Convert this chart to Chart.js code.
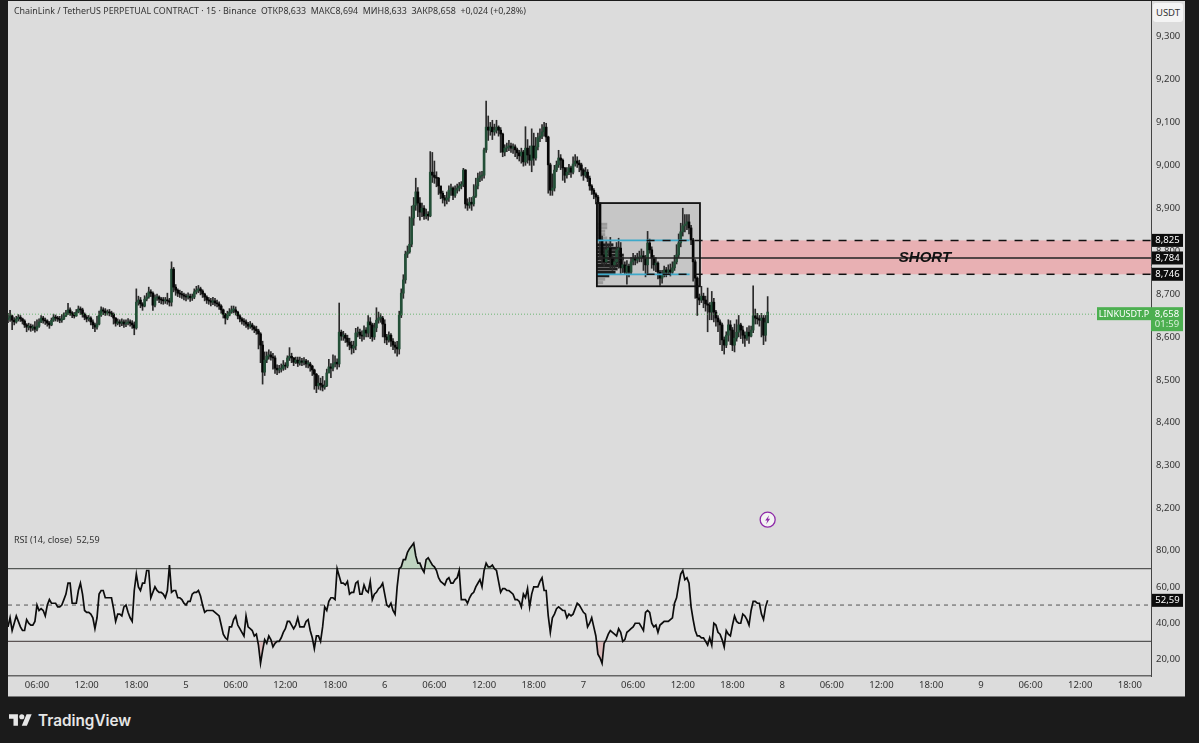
<!DOCTYPE html>
<html>
<head>
<meta charset="utf-8">
<title>LINKUSDT.P 15m</title>
<script src="https://cdn.jsdelivr.net/npm/chart.js@4/dist/chart.umd.min.js"></script>
<style>
  html, body { margin: 0; padding: 0; background: #1b1b1b; }
  body { width: 1199px; height: 743px; position: relative; overflow: hidden; font-family: "Noto Sans", sans-serif; }
  #panel { position: absolute; left: 8px; top: 1px; width: 1177px; height: 695px; background: #dcdcdc; border-bottom: 1px solid #777; }
  #priceCanvas { position: absolute; left: 8px; top: 1px; }
  #rsiCanvas { position: absolute; left: 8px; top: 531px; }
  #header { position: absolute; left: 14px; top: 4px; font-size: 8.9px; color: #333; white-space: pre; }
  #rsiTitle { position: absolute; left: 14px; top: 533px; font-size: 9px; color: #333; white-space: pre; }
  #currency { position: absolute; left: 1153px; top: 3px; width: 30px; height: 19px; line-height: 19px; background: #f4f4f4; border-radius: 3px; text-align: center; font-size: 9.5px; color: #333; }
  #brand { position: absolute; left: 9px; top: 708px; height: 24px; display: flex; align-items: center; color: #e6e6e6; font-family: Inter, sans-serif; font-weight: 600; font-size: 15.3px; }
  #brand svg { margin-right: 6px; }
</style>
</head>
<body>
<div id="panel"></div>
<canvas id="priceCanvas" width="1177" height="530"></canvas>
<canvas id="rsiCanvas" width="1177" height="166"></canvas>
<div id="header">ChainLink / TetherUS PERPETUAL CONTRACT · 15 · Binance  ОТКР8,633  МАКС8,694  МИН8,633  ЗАКР8,658  +0,024 (+0,28%)</div>
<div id="rsiTitle">RSI (14, close)  52,59</div>
<div id="currency">USDT</div>
<div id="brand">
  <svg width="23" height="12" viewBox="0 4 36 18"><path fill="#e6e6e6" d="M14 22H7V11H0V4h14v18ZM28 22h-8l7.5-18h8L28 22Z"/><circle fill="#e6e6e6" cx="20" cy="8" r="4"/></svg>TradingView
</div>

<script>
// ---- candles (15 min) ----
const opens = [
  8.640,8.644,8.649,8.639,8.635,8.642,8.646,8.642,8.637,8.628,
  8.623,8.625,8.621,8.623,8.618,8.625,8.635,8.644,8.639,8.637,
  8.632,8.628,8.639,8.646,8.644,8.642,8.639,8.642,8.649,8.656,
  8.663,8.656,8.651,8.649,8.658,8.665,8.663,8.653,8.646,8.642,
  8.644,8.635,8.628,8.623,8.630,8.651,8.663,8.660,8.656,8.658,
  8.656,8.653,8.644,8.632,8.635,8.632,8.635,8.630,8.632,8.635,
  8.632,8.628,8.621,8.681,8.686,8.677,8.672,8.688,8.693,8.705,
  8.702,8.674,8.691,8.693,8.688,8.686,8.684,8.686,8.684,8.681,
  8.758,8.716,8.709,8.702,8.700,8.698,8.695,8.693,8.695,8.691,
  8.693,8.705,8.709,8.712,8.707,8.700,8.693,8.686,8.684,8.681,
  8.684,8.679,8.677,8.672,8.663,8.653,8.644,8.651,8.658,8.663,
  8.663,8.658,8.649,8.642,8.637,8.635,8.630,8.625,8.628,8.623,
  8.618,8.614,8.607,8.581,8.518,8.546,8.555,8.558,8.553,8.551,
  8.527,8.523,8.525,8.527,8.534,8.532,8.551,8.555,8.551,8.541,
  8.546,8.539,8.544,8.541,8.544,8.537,8.537,8.532,8.523,8.513,
  8.486,8.492,8.488,8.483,8.486,8.516,8.530,8.527,8.537,8.541,
  8.537,8.611,8.602,8.604,8.597,8.588,8.581,8.574,8.579,8.609,
  8.611,8.604,8.602,8.616,8.609,8.635,8.628,8.600,8.621,8.639,
  8.644,8.644,8.630,8.600,8.593,8.604,8.590,8.581,8.576,8.572,
  8.651,8.702,8.733,8.793,8.798,8.816,8.877,8.907,8.938,8.912,
  8.891,8.900,8.882,8.886,8.882,8.984,8.977,8.972,8.970,8.952,
  8.935,8.924,8.919,8.924,8.942,8.947,8.930,8.942,8.947,8.952,
  8.956,8.989,8.910,8.907,8.914,8.910,8.928,8.952,8.970,8.975,
  8.977,9.036,9.089,9.082,9.089,9.078,9.082,9.089,9.082,9.073,
  9.031,9.040,9.043,9.045,9.040,9.043,9.036,9.029,9.022,9.031,
  9.008,9.040,9.024,9.012,9.045,9.017,9.043,9.064,9.068,9.078,
  9.089,9.066,9.001,8.942,8.947,8.989,9.001,9.017,9.012,8.994,
  8.977,8.984,8.994,8.984,9.003,9.010,9.005,9.001,8.989,8.977,
  8.984,8.970,8.952,8.942,8.933,8.926,8.912,8.826,8.791,8.775,
  8.803,8.807,8.784,8.768,8.775,8.803,8.807,8.761,8.768,8.751,
  8.765,8.751,8.775,8.784,8.779,8.784,8.786,8.789,8.784,8.768,
  8.819,8.803,8.784,8.768,8.772,8.751,8.737,8.744,8.756,8.751,
  8.756,8.751,8.761,8.775,8.791,8.819,8.845,8.859,8.863,8.868,
  8.854,8.826,8.775,8.737,8.691,8.686,8.695,8.686,8.677,8.674,
  8.658,8.681,8.658,8.644,8.635,8.628,8.593,8.581,8.604,8.628,
  8.616,8.581,8.597,8.611,8.628,8.616,8.604,8.597,8.611,8.602,
  8.616,8.649,8.644,8.642,8.639,8.644,8.604,8.633
];
const highs = [
  8.655,8.662,8.651,8.645,8.648,8.652,8.650,8.644,8.640,8.631,
  8.632,8.630,8.628,8.636,8.640,8.642,8.650,8.648,8.644,8.640,
  8.636,8.644,8.653,8.651,8.648,8.648,8.652,8.656,8.662,8.678,
  8.668,8.659,8.657,8.664,8.672,8.670,8.667,8.656,8.650,8.650,
  8.647,8.640,8.632,8.648,8.660,8.670,8.668,8.666,8.663,8.664,
  8.660,8.656,8.645,8.642,8.640,8.642,8.640,8.640,8.643,8.640,
  8.638,8.635,8.712,8.695,8.692,8.680,8.696,8.702,8.716,8.710,
  8.705,8.698,8.700,8.696,8.692,8.692,8.692,8.702,8.690,8.775,
  8.762,8.722,8.712,8.709,8.706,8.702,8.700,8.703,8.700,8.700,
  8.712,8.718,8.720,8.716,8.710,8.702,8.696,8.692,8.690,8.692,
  8.690,8.686,8.682,8.675,8.665,8.655,8.660,8.666,8.672,8.672,
  8.670,8.660,8.652,8.645,8.643,8.640,8.634,8.636,8.632,8.626,
  8.625,8.618,8.610,8.590,8.565,8.565,8.570,8.566,8.562,8.556,
  8.535,8.534,8.537,8.545,8.540,8.556,8.575,8.562,8.552,8.553,
  8.553,8.553,8.550,8.552,8.548,8.545,8.541,8.534,8.525,8.515,
  8.510,8.504,8.508,8.498,8.525,8.548,8.538,8.558,8.556,8.549,
  8.679,8.616,8.613,8.608,8.604,8.597,8.590,8.590,8.620,8.623,
  8.618,8.614,8.626,8.622,8.650,8.645,8.632,8.632,8.668,8.658,
  8.654,8.648,8.640,8.606,8.612,8.608,8.596,8.588,8.590,8.660,
  8.712,8.745,8.800,8.812,8.880,8.905,8.925,8.970,8.948,8.925,
  8.912,8.906,8.898,8.892,9.032,9.030,9.010,8.985,8.972,8.950,
  8.940,8.930,8.938,8.952,8.956,8.950,8.952,8.956,8.960,8.962,
  8.993,8.990,8.922,8.925,8.925,8.955,8.970,8.982,8.985,8.986,
  9.040,9.150,9.115,9.100,9.105,9.096,9.105,9.092,9.088,9.075,
  9.048,9.052,9.058,9.052,9.050,9.048,9.040,9.035,9.040,9.035,
  9.090,9.060,9.045,9.085,9.075,9.065,9.075,9.085,9.095,9.100,
  9.098,9.068,9.005,8.980,9.000,9.010,9.035,9.025,9.015,8.995,
  8.995,9.002,8.998,9.020,9.025,9.020,9.012,9.005,8.992,8.995,
  8.990,8.975,8.955,8.946,8.936,8.930,8.912,8.835,8.810,8.822,
  8.815,8.832,8.790,8.785,8.820,8.830,8.820,8.785,8.775,8.778,
  8.770,8.785,8.795,8.790,8.795,8.800,8.805,8.800,8.790,8.846,
  8.828,8.810,8.790,8.785,8.775,8.755,8.755,8.765,8.762,8.768,
  8.770,8.775,8.790,8.815,8.840,8.865,8.900,8.885,8.885,8.885,
  8.860,8.830,8.780,8.740,8.700,8.718,8.702,8.695,8.714,8.680,
  8.706,8.690,8.662,8.650,8.640,8.632,8.600,8.612,8.640,8.638,
  8.622,8.630,8.640,8.650,8.632,8.625,8.612,8.622,8.626,8.625,
  8.719,8.665,8.655,8.650,8.655,8.650,8.650,8.694
];
const lows = [
  8.633,8.636,8.617,8.628,8.632,8.637,8.636,8.630,8.622,8.612,
  8.616,8.613,8.615,8.611,8.614,8.622,8.633,8.632,8.629,8.625,
  8.620,8.626,8.636,8.637,8.636,8.633,8.634,8.640,8.647,8.652,
  8.650,8.645,8.644,8.648,8.656,8.652,8.646,8.640,8.635,8.637,
  8.628,8.619,8.612,8.618,8.628,8.648,8.652,8.650,8.651,8.649,
  8.647,8.630,8.625,8.628,8.624,8.626,8.622,8.624,8.628,8.625,
  8.620,8.605,8.618,8.674,8.668,8.662,8.670,8.684,8.690,8.694,
  8.662,8.670,8.685,8.680,8.677,8.676,8.678,8.676,8.672,8.672,
  8.705,8.697,8.694,8.692,8.690,8.686,8.684,8.688,8.683,8.685,
  8.689,8.700,8.703,8.698,8.692,8.684,8.678,8.676,8.672,8.675,
  8.672,8.670,8.664,8.655,8.644,8.630,8.640,8.649,8.655,8.656,
  8.651,8.642,8.635,8.630,8.627,8.622,8.618,8.620,8.616,8.610,
  8.606,8.572,8.540,8.490,8.510,8.540,8.548,8.546,8.525,8.515,
  8.512,8.516,8.518,8.522,8.524,8.528,8.545,8.540,8.533,8.538,
  8.531,8.534,8.533,8.535,8.529,8.528,8.520,8.510,8.478,8.470,
  8.478,8.476,8.474,8.478,8.484,8.516,8.505,8.521,8.530,8.525,
  8.530,8.592,8.592,8.587,8.578,8.570,8.560,8.563,8.570,8.600,
  8.596,8.590,8.594,8.600,8.600,8.596,8.590,8.594,8.612,8.632,
  8.634,8.600,8.586,8.582,8.588,8.578,8.570,8.562,8.555,8.560,
  8.645,8.690,8.725,8.785,8.795,8.810,8.860,8.895,8.880,8.872,
  8.880,8.874,8.875,8.872,8.880,8.960,8.958,8.950,8.932,8.922,
  8.912,8.905,8.910,8.916,8.930,8.920,8.925,8.935,8.940,8.945,
  8.950,8.900,8.895,8.900,8.895,8.905,8.925,8.945,8.962,8.965,
  8.970,9.030,9.058,9.070,9.060,9.070,9.075,9.068,9.030,9.020,
  9.022,9.032,9.034,9.030,9.028,9.020,9.015,9.010,9.005,8.998,
  9.000,9.005,9.000,8.985,9.000,9.012,9.036,9.055,9.062,9.068,
  9.055,8.935,8.930,8.930,8.940,8.985,8.995,8.990,8.965,8.960,
  8.970,8.978,8.972,8.980,8.998,8.995,8.985,8.975,8.965,8.972,
  8.962,8.942,8.932,8.922,8.910,8.826,8.780,8.770,8.765,8.770,
  8.790,8.760,8.755,8.760,8.768,8.760,8.748,8.750,8.745,8.723,
  8.740,8.745,8.768,8.768,8.772,8.775,8.775,8.755,8.740,8.745,
  8.795,8.760,8.755,8.752,8.735,8.720,8.725,8.740,8.740,8.745,
  8.742,8.748,8.755,8.770,8.785,8.810,8.835,8.845,8.850,8.840,
  8.815,8.730,8.690,8.650,8.675,8.680,8.668,8.660,8.612,8.640,
  8.640,8.635,8.625,8.612,8.582,8.568,8.560,8.575,8.590,8.582,
  8.568,8.565,8.590,8.600,8.596,8.585,8.578,8.592,8.585,8.600,
  8.610,8.630,8.630,8.625,8.600,8.582,8.590,8.633
];
const closes = [
  8.644,8.649,8.639,8.635,8.642,8.646,8.642,8.637,8.628,8.623,
  8.625,8.621,8.623,8.618,8.625,8.635,8.644,8.639,8.637,8.632,
  8.628,8.639,8.646,8.644,8.642,8.639,8.642,8.649,8.656,8.663,
  8.656,8.651,8.649,8.658,8.665,8.663,8.653,8.646,8.642,8.644,
  8.635,8.628,8.623,8.630,8.651,8.663,8.660,8.656,8.658,8.656,
  8.653,8.644,8.632,8.635,8.632,8.635,8.630,8.632,8.635,8.632,
  8.628,8.621,8.681,8.686,8.677,8.672,8.688,8.693,8.705,8.702,
  8.674,8.691,8.693,8.688,8.686,8.684,8.686,8.684,8.681,8.758,
  8.716,8.709,8.702,8.700,8.698,8.695,8.693,8.695,8.691,8.693,
  8.705,8.709,8.712,8.707,8.700,8.693,8.686,8.684,8.681,8.684,
  8.679,8.677,8.672,8.663,8.653,8.644,8.651,8.658,8.663,8.663,
  8.658,8.649,8.642,8.637,8.635,8.630,8.625,8.628,8.623,8.618,
  8.614,8.607,8.581,8.518,8.546,8.555,8.558,8.553,8.551,8.527,
  8.523,8.525,8.527,8.534,8.532,8.551,8.555,8.551,8.541,8.546,
  8.539,8.544,8.541,8.544,8.537,8.537,8.532,8.523,8.513,8.486,
  8.492,8.488,8.483,8.486,8.516,8.530,8.527,8.537,8.541,8.537,
  8.611,8.602,8.604,8.597,8.588,8.581,8.574,8.579,8.609,8.611,
  8.604,8.602,8.616,8.609,8.635,8.628,8.600,8.621,8.639,8.644,
  8.644,8.630,8.600,8.593,8.604,8.590,8.581,8.576,8.572,8.651,
  8.702,8.733,8.793,8.798,8.816,8.877,8.907,8.938,8.912,8.891,
  8.900,8.882,8.886,8.882,8.984,8.977,8.972,8.970,8.952,8.935,
  8.924,8.919,8.924,8.942,8.947,8.930,8.942,8.947,8.952,8.956,
  8.989,8.910,8.907,8.914,8.910,8.928,8.952,8.970,8.975,8.977,
  9.036,9.089,9.082,9.089,9.078,9.082,9.089,9.082,9.073,9.031,
  9.040,9.043,9.045,9.040,9.043,9.036,9.029,9.022,9.031,9.008,
  9.040,9.024,9.012,9.045,9.017,9.043,9.064,9.068,9.078,9.089,
  9.066,9.001,8.942,8.947,8.989,9.001,9.017,9.012,8.994,8.977,
  8.984,8.994,8.984,9.003,9.010,9.005,9.001,8.989,8.977,8.984,
  8.970,8.952,8.942,8.933,8.926,8.912,8.826,8.791,8.775,8.803,
  8.807,8.784,8.768,8.775,8.803,8.807,8.761,8.768,8.751,8.765,
  8.751,8.775,8.784,8.779,8.784,8.786,8.789,8.784,8.768,8.819,
  8.803,8.784,8.768,8.772,8.751,8.737,8.744,8.756,8.751,8.756,
  8.751,8.761,8.775,8.791,8.819,8.845,8.859,8.863,8.868,8.854,
  8.826,8.775,8.737,8.691,8.686,8.695,8.686,8.677,8.674,8.658,
  8.681,8.658,8.644,8.635,8.628,8.593,8.581,8.604,8.628,8.616,
  8.581,8.597,8.611,8.628,8.616,8.604,8.597,8.611,8.602,8.616,
  8.649,8.644,8.642,8.639,8.644,8.604,8.633,8.658
];

// ---- RSI (14), one value per candle ----
const rsiValues = [
  38,43,36,40,44,41,38,36,36,42,
  40,39,39,41,50,47,48,47,44,50,
  53,51,51,51,49,49,50,53,56,62,
  62,51,51,51,58,62,56,47,46,46,
  45,43,37,43,56,58,58,54,54,54,
  54,48,41,45,45,44,49,50,46,43,
  41,58,67,60,58,62,62,69,69,54,
  57,60,58,57,57,56,54,58,72,57,
  58,58,54,54,53,51,50,52,52,56,
  57,57,58,55,50,46,47,47,47,47,
  46,45,44,39,34,32,31,38,38,42,
  44,39,37,35,33,44,38,37,36,33,
  34,28,18,25,31,29,33,31,27,29,
  30,30,32,35,37,41,41,39,37,39,
  43,38,38,38,41,42,36,32,26,33,
  33,30,38,49,47,52,54,54,53,70,
  66,62,62,61,63,56,57,57,62,63,
  56,56,61,58,57,63,53,56,57,59,
  60,62,56,50,49,51,47,45,60,70,
  71,75,75,79,81,82.5,84,77,73,73,
  70,68,75,76,74,72,71,69,65,63,
  62,61,64,65,62,62,64,65,69,53,
  53,53,51,54,56,57,60,62,64,60,
  69,73,71,71,72,70,69,63,57,59,
  59,58,58,57,56,53,53,52,49,56,
  54,59,49,56,60,60,60,63,65,58,
  58,44,35,43,45,48,49,48,47,47,
  43,45,44,45,48,51,50,48,46,45,
  38,40,43,38,33,23,21,18,29,31,
  34,36,35,34,33,37,35,30,31,35,
  36,37,38,40,40,40,38,36,46,47,
  46,40,38,39,35,39,40,41,41,41,
  42,43,51,54,61,67,69,64,65,62,
  49,42,36,33,33,32,32,30,28,32,
  28,40,39,35,34,31,27,36,34,33,
  39,44,41,40,40,45,44,42,39,47,
  52,52,51,51,45,42,49,52.59
];

// ---- axes ----
const priceTicks = [8.2,8.3,8.4,8.5,8.6,8.7,8.8,8.9,9.0,9.1,9.2,9.3];
const rsiTicks = [20,40,60,80];
const timeTickPositions = [14,38,62,86,110,134,158,182,206,230,254,278,302,326,350,374,398,422,446,470,494,518,542];
const timeTickLabels = ["06:00","12:00","18:00","5","06:00","12:00","18:00","6","06:00","12:00","18:00","7","06:00","12:00","18:00","8","06:00","12:00","18:00","9","06:00","12:00","18:00"];

// ---- drawings on the price pane ----
const zoneLevels = [8.825, 8.784, 8.746];
const zoneStart = 335;
const boxLevels = [8.912, 8.718];
const boxRange = [284.5, 334.3];
const lastPrice = 8.658;
const lastPriceLine = 8.653;
const rsiBand = [70, 50, 30];
const rsiLast = 52.59;

// volume profile rows in the box (price, length in candles)
const profilePrices = [8.866,8.858,8.850,8.842,8.834,8.826,8.818,8.810,8.802,8.794,8.786,8.778,8.770,8.762,8.754,8.746,8.738,8.730];
const profileLengths = [5,5,4,4,5,7,8,11,12,13,13,12,11,10,9,6,4,3];

const eventPoint = [367, 8.174];

const fmtPrice = v => v.toFixed(3).replace(".", ",");
const fmtRsi = v => v.toFixed(2).replace(".", ",");

const AXIS_W = 34;
const FONT = '9.5px "Noto Sans", sans-serif';
const TEXT = "#333";

// chart.js adds half a label plus tick padding above and below the axis, the panes here run edge to edge
function fitPriceAxis(s) {
  s.width = AXIS_W;
  s.paddingTop = 0;
  s.paddingBottom = 0;
}

function tag(ctx, x, y, w, h, bg, fg, text) {
  ctx.fillStyle = bg;
  ctx.fillRect(x, y - h / 2, w, h);
  ctx.fillStyle = fg;
  ctx.font = FONT;
  ctx.textAlign = "center";
  ctx.textBaseline = "middle";
  ctx.fillText(text, x + w / 2, y);
}

// zone and box go under the candles
const underlay = {
  id: "underlay",
  beforeDatasetsDraw(chart) {
    const { ctx, chartArea, scales: { x, y } } = chart;
    ctx.save();
    ctx.fillStyle = "#e8b0b3";
    ctx.fillRect(x.getPixelForValue(zoneStart), y.getPixelForValue(zoneLevels[0]),
      chartArea.right - x.getPixelForValue(zoneStart), y.getPixelForValue(zoneLevels[2]) - y.getPixelForValue(zoneLevels[0]));

    const bx = x.getPixelForValue(boxRange[0]);
    const bw = x.getPixelForValue(boxRange[1]) - bx;
    const by = y.getPixelForValue(boxLevels[0]);
    const bh = y.getPixelForValue(boxLevels[1]) - by;
    ctx.fillStyle = "rgba(110,110,110,0.2)";
    ctx.fillRect(bx, by, bw, bh);

    // profile rows
    profilePrices.forEach((p, i) => {
      const inValue = p <= zoneLevels[0] && p >= zoneLevels[2];
      ctx.fillStyle = inValue ? "rgba(15,15,15,0.92)" : "rgba(120,120,120,0.55)";
      ctx.fillRect(bx, y.getPixelForValue(p), x.getPixelForValue(boxRange[0] + profileLengths[i]) - bx, 3);
    });
    ctx.restore();
  }
};

// lines, labels and tags go on top
const overlay = {
  id: "overlay",
  afterDatasetsDraw(chart) {
    const { ctx, chartArea, scales: { x, y } } = chart;
    const right = chartArea.right;
    const bx = x.getPixelForValue(boxRange[0]);
    const bx2 = x.getPixelForValue(boxRange[1]);
    ctx.save();

    // last price dotted line
    ctx.strokeStyle = "rgba(70,170,80,0.75)";
    ctx.lineWidth = 1;
    ctx.setLineDash([1, 2]);
    ctx.beginPath();
    ctx.moveTo(chartArea.left, y.getPixelForValue(lastPriceLine));
    ctx.lineTo(right, y.getPixelForValue(lastPriceLine));
    ctx.stroke();

    // cyan value-area lines in the box
    ctx.setLineDash([]);
    ctx.strokeStyle = "#3ea9c9";
    ctx.lineWidth = 1.7;
    [zoneLevels[0], zoneLevels[2]].forEach(p => {
      ctx.beginPath();
      ctx.moveTo(bx, y.getPixelForValue(p));
      ctx.lineTo(x.getPixelForValue(boxRange[1] - 5), y.getPixelForValue(p));
      ctx.stroke();
    });

    // dashed zone edges
    ctx.strokeStyle = "#111";
    ctx.lineWidth = 1.5;
    ctx.setLineDash([8, 8]);
    [zoneLevels[0], zoneLevels[2]].forEach(p => {
      ctx.beginPath();
      ctx.moveTo(x.getPixelForValue(boxRange[0] + 24), y.getPixelForValue(p));
      ctx.lineTo(right, y.getPixelForValue(p));
      ctx.stroke();
    });

    // mid line
    ctx.setLineDash([]);
    ctx.strokeStyle = "#222";
    ctx.lineWidth = 1.4;
    ctx.beginPath();
    ctx.moveTo(bx, y.getPixelForValue(zoneLevels[1]));
    ctx.lineTo(right, y.getPixelForValue(zoneLevels[1]));
    ctx.stroke();

    // box border
    ctx.strokeStyle = "#111";
    ctx.lineWidth = 1.8;
    ctx.strokeRect(bx, y.getPixelForValue(boxLevels[0]), bx2 - bx, y.getPixelForValue(boxLevels[1]) - y.getPixelForValue(boxLevels[0]));

    // zone caption
    ctx.fillStyle = "#111";
    ctx.font = 'italic bold 15px "Liberation Sans", sans-serif';
    ctx.textAlign = "center";
    ctx.textBaseline = "middle";
    ctx.fillText("SHORT", x.getPixelForValue(443), y.getPixelForValue(zoneLevels[1]));

    // event marker
    const ex = x.getPixelForValue(eventPoint[0]);
    const ey = y.getPixelForValue(eventPoint[1]);
    ctx.beginPath();
    ctx.arc(ex, ey, 7.5, 0, Math.PI * 2);
    ctx.fillStyle = "#f3f3f3";
    ctx.fill();
    ctx.strokeStyle = "#8e2aa8";
    ctx.lineWidth = 1.3;
    ctx.stroke();
    ctx.fillStyle = "#8e2aa8";
    ctx.beginPath();
    ctx.moveTo(ex + 1.5, ey - 4.5);
    ctx.lineTo(ex - 2.5, ey + 0.8);
    ctx.lineTo(ex - 0.3, ey + 0.8);
    ctx.lineTo(ex - 1.5, ey + 4.5);
    ctx.lineTo(ex + 2.5, ey - 0.8);
    ctx.lineTo(ex + 0.3, ey - 0.8);
    ctx.closePath();
    ctx.fill();

    // price tags on the axis
    zoneLevels.forEach(p => tag(ctx, right + 1, y.getPixelForValue(p), 31, 13, "#0d0d0d", "#fff", fmtPrice(p)));

    const ly = y.getPixelForValue(lastPriceLine);
    ctx.fillStyle = "#4caf50";
    ctx.fillRect(right - 54, ly - 7, 54, 13);
    ctx.fillRect(right, ly - 7, 32, 24);
    ctx.fillStyle = "#fff";
    ctx.font = '9px "Noto Sans", sans-serif';
    ctx.textAlign = "center";
    ctx.textBaseline = "middle";
    ctx.fillText("LINKUSDT.P", right - 27, ly);
    ctx.font = FONT;
    ctx.fillText(fmtPrice(lastPrice), right + 16, ly);
    ctx.fillStyle = "#d9f0da";
    ctx.fillText("01:59", right + 16, ly + 10.5);
    ctx.restore();
  }
};

new Chart(document.getElementById("priceCanvas"), {
  type: "bar",
  data: {
    datasets: [
      {
        label: "wick",
        data: opens.map((_, i) => ({ x: i, y: [lows[i], highs[i]] })),
        backgroundColor: "#2a2a2a",
        barThickness: 1,
        grouped: false,
        order: 2
      },
      {
        label: "body",
        data: opens.map((o, i) => ({ x: i, y: [o, closes[i]] })),
        backgroundColor: opens.map((o, i) => (closes[i] >= o ? "#234f37" : "#050505")),
        barThickness: 2,
        minBarLength: 1,
        grouped: false,
        order: 1
      }
    ]
  },
  plugins: [underlay, overlay],
  options: {
    responsive: false,
    animation: false,
    events: [],
    layout: { padding: 0, autoPadding: false },
    plugins: { legend: { display: false }, tooltip: { enabled: false } },
    scales: {
      x: { type: "linear", display: false, offset: false, min: 0, max: 552.2, grid: { display: false } },
      y: {
        position: "right",
        min: 8.1476,
        max: 9.383,
        grid: { display: false, drawTicks: false },
        border: { display: true, color: "#444", width: 1 },
        afterFit: fitPriceAxis,
        afterBuildTicks(s) { s.ticks = priceTicks.map(v => ({ value: v })); },
        ticks: {
          color: TEXT,
          font: { family: '"Noto Sans", sans-serif', size: 9.5 },
          padding: 5,
          callback: v => fmtPrice(v)
        }
      }
    }
  }
});

// RSI band fill and last value tag
const rsiDeco = {
  id: "rsiDeco",
  beforeDatasetsDraw(chart) {
    const { ctx, chartArea, scales: { y } } = chart;
    ctx.save();
    ctx.fillStyle = "rgba(255,255,255,0.13)";
    ctx.fillRect(chartArea.left, y.getPixelForValue(rsiBand[0]), chartArea.width, y.getPixelForValue(rsiBand[2]) - y.getPixelForValue(rsiBand[0]));
    ctx.strokeStyle = "#555";
    ctx.lineWidth = 1.3;
    [rsiBand[0], rsiBand[2]].forEach(v => {
      ctx.beginPath();
      ctx.moveTo(chartArea.left, y.getPixelForValue(v));
      ctx.lineTo(chartArea.right, y.getPixelForValue(v));
      ctx.stroke();
    });
    ctx.setLineDash([4, 4]);
    ctx.lineWidth = 1;
    ctx.beginPath();
    ctx.moveTo(chartArea.left, y.getPixelForValue(rsiBand[1]));
    ctx.lineTo(chartArea.right, y.getPixelForValue(rsiBand[1]));
    ctx.stroke();
    ctx.restore();
  },
  afterDatasetsDraw(chart) {
    const { ctx, chartArea, scales: { y } } = chart;
    ctx.save();
    tag(ctx, chartArea.right + 1, y.getPixelForValue(rsiLast), 31, 13, "#0d0d0d", "#fff", fmtRsi(rsiLast));
    ctx.restore();
  }
};

new Chart(document.getElementById("rsiCanvas"), {
  type: "line",
  data: {
    datasets: [
      {
        label: "RSI",
        data: rsiValues.map((v, i) => ({ x: i, y: v })),
        borderColor: "#0c0c0c",
        borderWidth: 1.7,
        pointRadius: 0,
        tension: 0,
        fill: { target: { value: rsiBand[0] }, above: "rgba(76,175,80,0.2)", below: "rgba(0,0,0,0)" }
      },
      {
        label: "RSI oversold",
        data: rsiValues.map((v, i) => ({ x: i, y: v })),
        borderWidth: 0,
        pointRadius: 0,
        fill: { target: { value: rsiBand[2] }, above: "rgba(0,0,0,0)", below: "rgba(220,60,60,0.2)" }
      }
    ]
  },
  plugins: [rsiDeco],
  options: {
    responsive: false,
    animation: false,
    events: [],
    layout: { padding: 0, autoPadding: false },
    plugins: { legend: { display: false }, tooltip: { enabled: false } },
    scales: {
      x: {
        type: "linear",
        min: 0,
        max: 552.2,
        grid: { display: false, drawTicks: false },
        border: { display: true, color: "#666", width: 1.5 },
        afterFit(s) { s.height = 21; },
        afterBuildTicks(s) { s.ticks = timeTickPositions.map(v => ({ value: v })); },
        ticks: {
          color: TEXT,
          font: { family: '"Noto Sans", sans-serif', size: 9.5 },
          maxRotation: 0,
          autoSkip: false,
          padding: 4,
          callback: (v, i) => timeTickLabels[i]
        }
      },
      y: {
        position: "right",
        min: 11,
        max: 90.7,
        grid: { display: false, drawTicks: false },
        border: { display: true, color: "#444", width: 1 },
        afterFit: fitPriceAxis,
        afterBuildTicks(s) { s.ticks = rsiTicks.map(v => ({ value: v })); },
        ticks: {
          color: TEXT,
          font: { family: '"Noto Sans", sans-serif', size: 9.5 },
          padding: 5,
          callback: v => v.toFixed(2).replace(".", ",")
        }
      }
    }
  }
});
</script>
</body>
</html>
